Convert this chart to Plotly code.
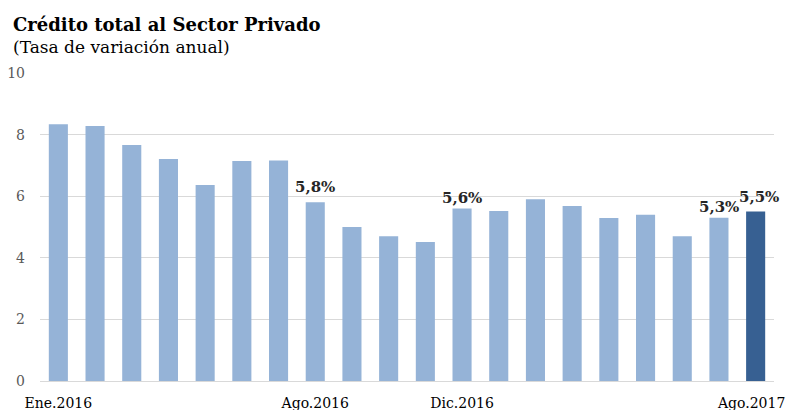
import plotly.graph_objects as go

meses = ['Ene.2016', 'Feb.2016', 'Mar.2016', 'Abr.2016', 'May.2016', 'Jun.2016',
         'Jul.2016', 'Ago.2016', 'Sep.2016', 'Oct.2016', 'Nov.2016', 'Dic.2016',
         'Ene.2017', 'Feb.2017', 'Mar.2017', 'Abr.2017', 'May.2017', 'Jun.2017',
         'Jul.2017', 'Ago.2017']
credito = [8.34, 8.28, 7.66, 7.21, 6.36, 7.14, 7.16, 5.8, 5.0, 4.7,
           4.51, 5.6, 5.52, 5.9, 5.68, 5.29, 5.4, 4.7, 5.3, 5.5]
etiquetas = ['', '', '', '', '', '', '', '5,8%', '', '',
             '', '5,6%', '', '', '', '', '', '', '5,3%', '5,5%']
ticks_x = ['Ene.2016', 'Ago.2016', 'Dic.2016', 'Ago.2017']
ticks_y = [0, 2, 4, 6, 8, 10]

colores = ['#95B3D7'] * (len(meses) - 1) + ['#376092']

fig = go.Figure()

fig.add_trace(go.Bar(
    x=meses,
    y=credito,
    marker=dict(color=colores, line=dict(width=0)),
    width=0.52,
    hoverinfo='x+y'
))

fig.update_layout(
    width=788,
    height=410,
    margin=dict(l=40, r=14, t=73, b=29),
    paper_bgcolor='white',
    plot_bgcolor='white',
    showlegend=False,
    font=dict(family='DejaVu Serif', color='#595959'),
)

# títulos
fig.add_annotation(text='<b>Crédito total al Sector Privado</b>',
                   xref='paper', yref='paper', x=-0.04, y=1.159,
                   xanchor='left', yanchor='middle', showarrow=False,
                   font=dict(family='DejaVu Serif', size=18, color='#000000'))
fig.add_annotation(text='(Tasa de variación anual)',
                   xref='paper', yref='paper', x=-0.04, y=1.084,
                   xanchor='left', yanchor='middle', showarrow=False,
                   font=dict(family='DejaVu Serif', size=17, color='#000000'))

# etiquetas de datos
for mes, valor, etiqueta in zip(meses, credito, etiquetas):
    if not etiqueta:
        continue
    desplaz_x = 3 if mes == meses[-1] else 0
    desplaz_y = 4 if mes in ('Ago.2016', 'Ago.2017') else 0
    fig.add_annotation(text=etiqueta, x=mes, y=valor, xref='x', yref='y',
                       xanchor='center', yanchor='bottom', showarrow=False,
                       xshift=desplaz_x, yshift=desplaz_y,
                       font=dict(family='DejaVu Serif', size=15,
                                 color='#262626', weight='bold'))

# la última etiqueta del eje se corre un poco para que no se corte
texto_ticks = ticks_x[:-1] + ['']
fig.add_annotation(text=ticks_x[-1], x=ticks_x[-1], y=0, xref='x', yref='paper',
                   xanchor='right', yanchor='top', showarrow=False,
                   xshift=31, yshift=-12,
                   font=dict(family='DejaVu Serif', size=14, color='#000000'))

fig.update_xaxes(
    range=[-0.5, len(meses) - 0.5],
    tickmode='array',
    tickvals=ticks_x,
    ticktext=texto_ticks,
    tickfont=dict(family='DejaVu Serif', size=14, color='#000000'),
    showgrid=False,
    showline=True,
    linecolor='#D9D9D9',
    ticks='',
    tickangle=0,
    ticklabelstandoff=9,
    automargin=False
)
fig.update_yaxes(
    range=[0, 10],
    tickvals=ticks_y,
    tickfont=dict(family='DejaVu Serif', size=14, color='#595959'),
    showgrid=True,
    gridcolor='#D9D9D9',
    zeroline=False,
    ticks='',
    ticklabelstandoff=14,
    automargin=False
)

# quitar el margen por defecto del body para que la figura ocupe la ventana
fig.write_html('out.html', config={'displayModeBar': False},
               post_script="document.body.style.margin='0';")
